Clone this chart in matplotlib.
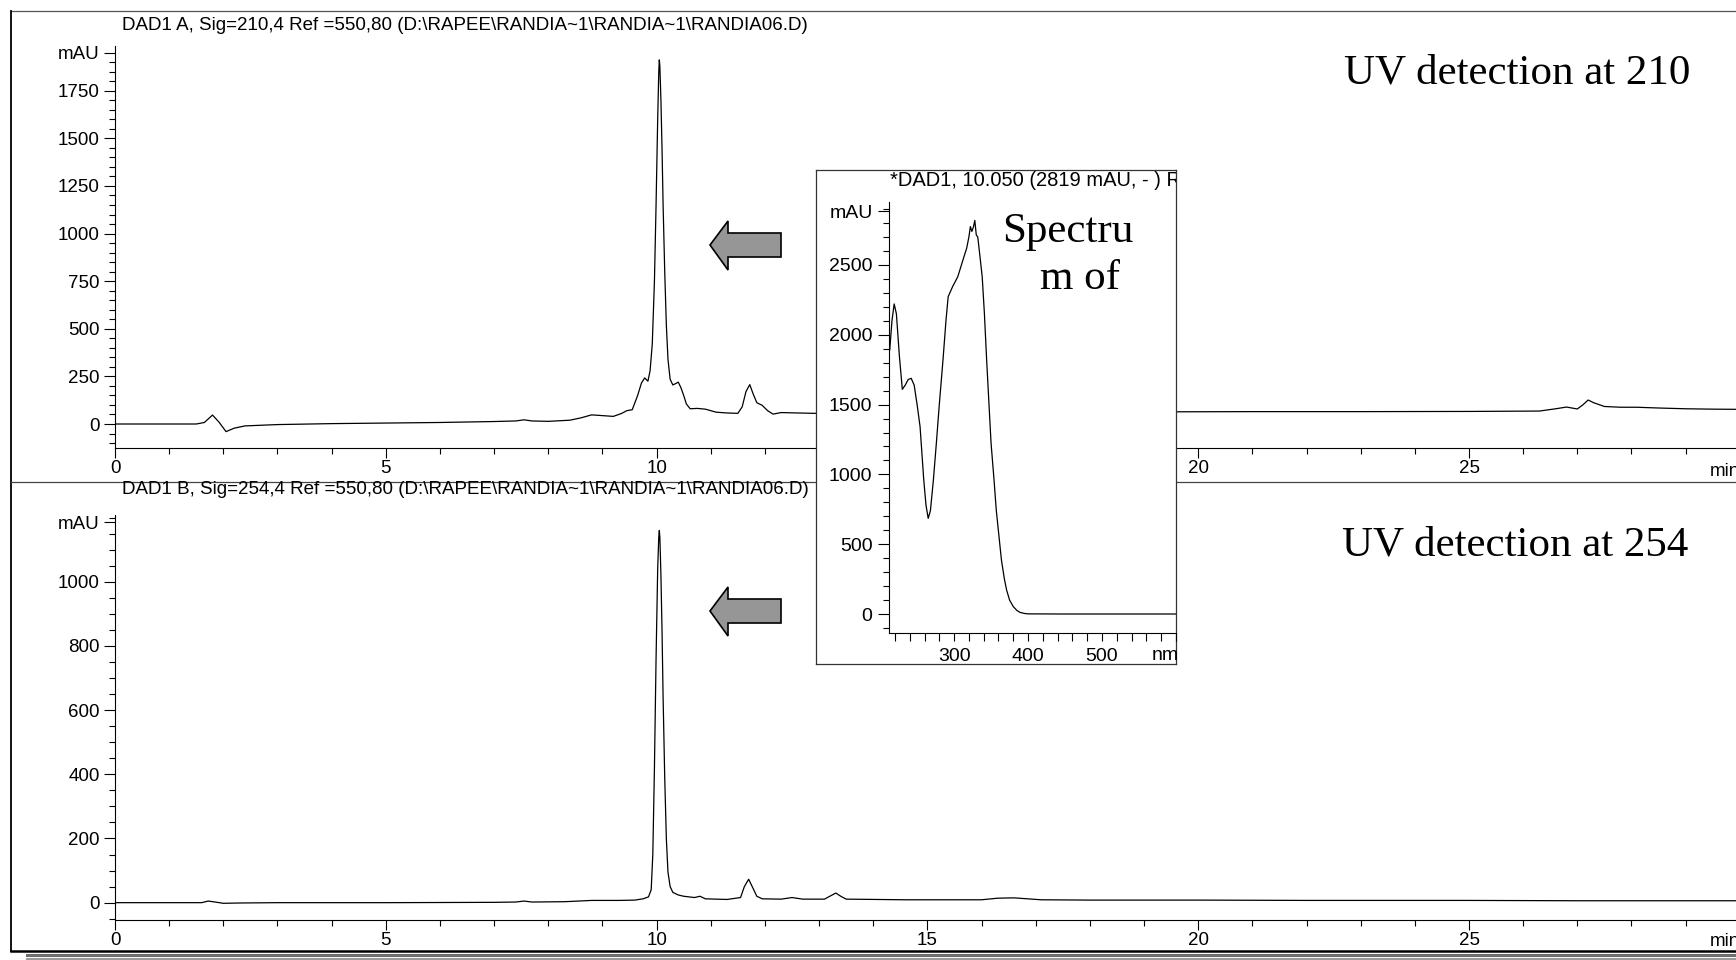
import numpy as np
import matplotlib.pyplot as plt
from matplotlib.ticker import MultipleLocator
from matplotlib.patches import Polygon
from matplotlib.lines import Line2D

# ---- chromatogram, DAD1 A (210 nm) ----
t_210 = [0, 1.5, 1.65, 1.8, 1.92, 2.05, 2.2, 2.4, 3.0, 4.0, 5.0, 6.0, 7.0, 7.4, 7.55, 7.7,
         8.0, 8.4, 8.6, 8.8, 9.0, 9.2, 9.35, 9.45, 9.55, 9.65, 9.72, 9.78, 9.84, 9.88, 9.92,
         9.96, 9.99, 10.02, 10.04, 10.05, 10.06, 10.08, 10.10, 10.12, 10.15, 10.18, 10.21,
         10.25, 10.30, 10.35, 10.40, 10.45, 10.50, 10.55, 10.62, 10.75, 10.9, 11.1, 11.3,
         11.5, 11.58, 11.65, 11.72, 11.78, 11.85, 11.95, 12.05, 12.15, 12.3, 12.6, 12.9,
         14, 16, 18, 19.5, 21, 23, 25, 26.3, 26.6, 26.8, 27.0, 27.1, 27.2, 27.3, 27.5,
         27.8, 28.1, 28.5, 29.0, 29.5, 30]
mau_210 = [0, 0, 8, 47, 10, -40, -22, -10, -3, 2, 5, 8, 13, 16, 22, 16,
           14, 20, 32, 48, 44, 40, 55, 70, 75, 150, 215, 242, 225, 280, 420,
           750, 1150, 1600, 1850, 1912, 1880, 1700, 1450, 1150, 800, 520, 340,
           235, 205, 212, 220, 190, 150, 105, 80, 82, 78, 62, 58,
           56, 90, 170, 207, 160, 112, 98, 70, 52, 60, 58, 56,
           58, 60, 62, 64, 65, 65, 66, 68, 80, 89, 79, 100, 126, 112, 92,
           88, 88, 84, 80, 78, 77]

# ---- chromatogram, DAD1 B (254 nm) ----
t_254 = [0, 1.6, 1.72, 1.85, 2.0, 2.3, 3, 5, 7, 7.4, 7.55, 7.7, 8.3, 8.8, 9.3, 9.6, 9.75,
         9.85, 9.9, 9.93, 9.96, 9.99, 10.02, 10.04, 10.05, 10.06, 10.08, 10.10, 10.12,
         10.15, 10.18, 10.21, 10.25, 10.3, 10.4, 10.5, 10.7, 10.8, 10.9, 11.3, 11.55,
         11.62, 11.7, 11.78, 11.85, 11.95, 12.3, 12.5, 12.7, 13.1, 13.22, 13.31, 13.4,
         13.5, 14.6, 16.0, 16.3, 16.6, 17.1, 18, 20, 22, 25, 27, 30]
mau_254 = [0, 0, 5, 2, -2, -1, 0, 0, 1, 2, 5, 2, 3, 7, 7, 8, 12,
           18, 40, 150, 420, 760, 1040, 1140, 1160, 1140, 1020, 850, 640,
           390, 200, 95, 50, 32, 24, 20, 16, 20, 12, 10, 16,
           50, 73, 45, 20, 12, 11, 16, 11, 11, 22, 30, 20,
           11, 9, 9, 14, 15, 9, 8, 8, 7, 7, 6, 6]

# ---- UV spectrum at 10.050 min ----
wl = [213, 216, 219, 222, 226, 230, 234, 238, 242, 246, 250, 254, 259, 262, 265, 268,
      272, 276, 280, 285, 289, 292, 298, 305, 312, 317, 320, 322, 324, 326, 328, 330,
      332, 335, 338, 341, 344, 347, 350, 354, 357, 361, 364, 368, 371, 375, 380, 385,
      389, 395, 400, 450, 500, 550, 600]
spec = [1891, 2100, 2221, 2150, 1850, 1609, 1640, 1680, 1688, 1640, 1500, 1342, 960, 780, 685, 740,
        960, 1222, 1500, 1820, 2100, 2273, 2345, 2416, 2536, 2620, 2700, 2775, 2740, 2770, 2819, 2715,
        2700, 2560, 2416, 2150, 1820, 1520, 1222, 960, 745, 540, 387, 250, 172, 100, 53, 25,
        12, 4, 1, 0, 0, 0, 0]

title_a = r"DAD1 A, Sig=210,4 Ref =550,80 (D:\RAPEE\RANDIA~1\RANDIA~1\RANDIA06.D)"
title_b = r"DAD1 B, Sig=254,4 Ref =550,80 (D:\RAPEE\RANDIA~1\RANDIA~1\RANDIA06.D)"
title_spec = "*DAD1, 10.050 (2819 mAU, - ) Ref=9.963 & 10.303 of RANDIA06.D"

W, H = 1736, 960
SANS = ['Liberation Sans', 'DejaVu Sans']
SERIF = ['Liberation Serif', 'DejaVu Serif']
plt.rcParams['font.family'] = SANS
plt.rcParams['font.size'] = 13.5


def rect(l, t, r, b):
    # pixel box measured from the top-left corner -> figure fraction
    return [l / W, 1 - b / H, (r - l) / W, (b - t) / H]


def fx(x):
    return x / W


def fy(y):
    return 1 - y / H


fig = plt.figure(figsize=(W / 100, H / 100), dpi=100)


def style_axes(ax, ylo, yhi, ymajor, yminor, mau_at, xlim, xmajor, xminor, size=13.5):
    for s in ('top', 'right'):
        ax.spines[s].set_visible(False)
    for s in ('left', 'bottom'):
        ax.spines[s].set_linewidth(0.8)
    ax.set_xlim(*xlim)
    ax.set_ylim(ylo, yhi)
    ax.set_yticks(list(ymajor) + [mau_at])
    ax.set_yticklabels([str(v) for v in ymajor] + ['mAU'])
    ax.yaxis.set_minor_locator(MultipleLocator(yminor))
    ax.set_xticks(xmajor)
    ax.xaxis.set_minor_locator(MultipleLocator(xminor))
    ax.tick_params(axis='y', which='major', direction='out', length=7.9, width=0.8, pad=3,
                   labelsize=size)
    ax.tick_params(axis='y', which='minor', direction='out', length=4, width=0.8)
    ax.tick_params(axis='x', which='major', direction='out', length=7.2, width=0.8, pad=1.5,
                   labelsize=size)
    ax.tick_params(axis='x', which='minor', direction='out', length=4.3, width=0.8)
    ax.patch.set_alpha(0)


# top chromatogram
ax1 = fig.add_axes(rect(115, 46, 1736, 448))
ax1.plot(t_210, mau_210, color='black', lw=0.9)
style_axes(ax1, -126, 1985, range(0, 1751, 250), 50, 1950,
           (0, 1621 / 54.16), [0, 5, 10, 15, 20, 25], 1)

# bottom chromatogram
ax2 = fig.add_axes(rect(115, 515, 1736, 920))
ax2.plot(t_254, mau_254, color='black', lw=0.9)
style_axes(ax2, -54, 1208, range(0, 1001, 200), 50, 1185,
           (0, 1621 / 54.16), [0, 5, 10, 15, 20, 25], 1)

fig.text(fx(465), fy(25), title_a, ha='center', va='center')
fig.text(fx(465), fy(490), title_b, ha='center', va='center')
fig.text(fx(1710), fy(471), 'min', ha='left', va='center')
fig.text(fx(1710), fy(941), 'min', ha='left', va='center')

# page frame, panel divider and drop shadow
frame_kw = dict(transform=fig.transFigure, zorder=1)
fig.add_artist(Line2D([fx(11), 1], [fy(11), fy(11)], color='#555555', lw=0.9, **frame_kw))
fig.add_artist(Line2D([fx(11), fx(11)], [fy(11), fy(951)], color='black', lw=1.3, **frame_kw))
fig.add_artist(Line2D([fx(11), 1], [fy(951), fy(951)], color='black', lw=1.8, **frame_kw))
fig.add_artist(Line2D([fx(27), 1], [fy(954.5), fy(954.5)], color='#6e6e6e', lw=2.2, **frame_kw))
fig.add_artist(Line2D([fx(27), 1], [fy(959), fy(959)], color='#9a9a9a', lw=2.2, **frame_kw))
fig.add_artist(Line2D([fx(11), 1], [fy(481.5), fy(481.5)], color='#444444', lw=0.9, **frame_kw))

# block arrows pointing at the main peak
for yc in (245, 611):
    pts = [(710, yc), (728, yc - 24), (728, yc - 12), (781, yc - 12),
           (781, yc + 12), (728, yc + 12), (728, yc + 25)]
    fig.add_artist(Polygon([(fx(x), fy(y)) for x, y in pts], closed=True,
                           facecolor='#969696', edgecolor='black', lw=1.2,
                           transform=fig.transFigure, zorder=3))

# spectrum inset
axf = fig.add_axes(rect(816, 170, 1176, 664), zorder=5)
axf.set_xticks([])
axf.set_yticks([])
for s in axf.spines.values():
    s.set_color('#333333')
    s.set_linewidth(0.9)
axf.text((890 - 816) / 360, 1 - 11 / 494, title_spec, transform=axf.transAxes,
         ha='left', va='center', clip_on=True, fontsize=14.5)

ax3 = fig.add_axes(rect(889, 202, 1176, 633), zorder=6)
ax3.plot(wl, spec, color='black', lw=0.9)
style_axes(ax3, -136, 2951, range(0, 2501, 500), 100, 2885,
           (212, 600), [300, 400, 500], 20, size=14)
ax3.tick_params(axis='y', which='major', pad=4)
ax3.tick_params(axis='x', which='major', length=6, pad=5)
ax3.tick_params(axis='x', which='minor', length=6)
fig.text(fx(1165), fy(655), 'nm', ha='center', va='center', fontsize=14, zorder=10)

# annotations
fig.text(fx(1517), fy(73), 'UV detection at 210', family=SERIF, fontsize=31,
         ha='center', va='center')
fig.text(fx(1515), fy(545), 'UV detection at 254', family=SERIF, fontsize=31,
         ha='center', va='center')
fig.text(fx(1068), fy(232), 'Spectru', family=SERIF, fontsize=31,
         ha='center', va='center', zorder=10)
fig.text(fx(1080), fy(279), 'm of', family=SERIF, fontsize=31,
         ha='center', va='center', zorder=10)

fig.savefig('out.png', dpi=100, facecolor='white')
